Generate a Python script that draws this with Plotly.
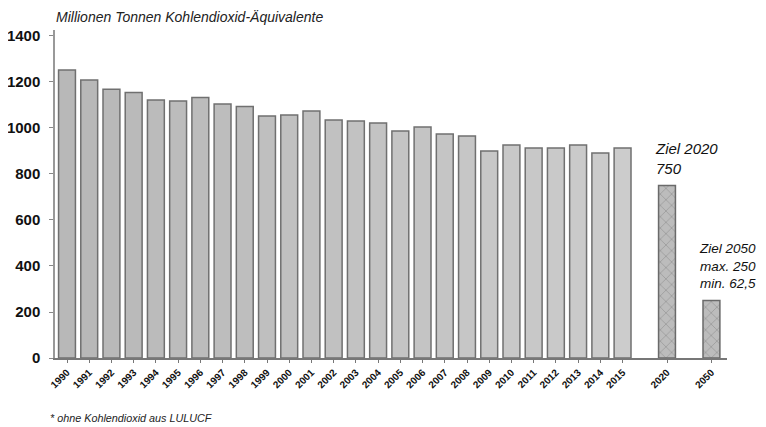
import plotly.graph_objects as go

years = ["1990", "1991", "1992", "1993", "1994", "1995", "1996", "1997", "1998", "1999",
         "2000", "2001", "2002", "2003", "2004", "2005", "2006", "2007", "2008", "2009",
         "2010", "2011", "2012", "2013", "2014", "2015"]
emissions = [1252, 1209, 1168, 1154, 1122, 1117, 1132, 1104, 1093, 1052,
             1057, 1074, 1035, 1030, 1022, 987, 1004, 974, 965, 900,
             926, 913, 913, 926, 891, 913]
target_years = ["2020", "2050"]
target_values = [750, 250]

y_ticks = [0, 200, 400, 600, 800, 1000, 1200, 1400]

hist_pos = list(range(len(years)))
target_pos = [len(years) + 1, len(years) + 3]

n = len(years)
hist_colors = []
for i in range(n):
    g = int(0xb8 + (0xcc - 0xb8) * i / (n - 1))
    hist_colors.append(f"rgb({g},{g},{g})")

fig = go.Figure()
fig.add_trace(go.Bar(
    x=hist_pos, y=emissions, width=0.76,
    marker=dict(color=hist_colors, line=dict(color="#707070", width=1.5)),
    hoverinfo="x+y", showlegend=False,
))
fig.add_trace(go.Bar(
    x=target_pos, y=target_values, width=0.76,
    marker=dict(color="#bcbcbc", line=dict(color="#6a6a6a", width=1.5),
                pattern=dict(shape="x", fgcolor="#666666", size=8, solidity=0.15)),
    showlegend=False,
))

# page body has an 8px margin: figure drawn at (8, 8)
fig.update_layout(
    width=758, height=419,
    margin=dict(l=47, r=39, t=22, b=69),
    plot_bgcolor="white", paper_bgcolor="white",
    bargap=0.2,
    font=dict(family="Liberation Sans, Arial, sans-serif", color="#111111"),
    xaxis=dict(
        range=[-0.54, 29.7],
        tickvals=hist_pos + target_pos,
        ticktext=years + target_years,
        tickangle=-45,
        tickfont=dict(size=10, family="Liberation Sans, Arial, sans-serif", weight="bold"),
        showline=True, linecolor="#777777", linewidth=1.5,
        ticks="outside", ticklen=3, tickcolor="#777777",
        showgrid=False, zeroline=False, automargin=False,
    ),
    yaxis=dict(
        range=[0, 1426],
        tickvals=y_ticks,
        ticktext=[str(v) for v in y_ticks],
        tickfont=dict(size=15, family="Liberation Sans, Arial, sans-serif", weight="bold", color="#111111"),
        showline=True, linecolor="#999999", linewidth=1.5,
        ticks="outside", ticklen=4, tickcolor="#888888",
        showgrid=False, zeroline=False, automargin=False,
        ticklabelstandoff=6,
    ),
    annotations=[
        dict(text="<i>Millionen Tonnen Kohlendioxid-Äquivalente</i>",
             xref="paper", yref="paper", x=-0.002, y=1.0, yshift=23,
             xanchor="left", yanchor="top", showarrow=False,
             font=dict(size=14, color="#222222")),
        dict(text="<i>* ohne Kohlendioxid aus LULUCF</i>",
             xref="paper", yref="paper", x=-0.01, y=0, yshift=-60,
             xanchor="left", yanchor="middle", showarrow=False,
             font=dict(size=10.8, color="#222222")),
        dict(text="<i>Ziel 2020<br>750</i>",
             xref="x", yref="y", x=target_pos[0] - 0.62, y=target_values[0], yshift=6,
             xanchor="left", yanchor="bottom", showarrow=False, align="left",
             font=dict(size=15, color="#111111")),
        dict(text="<i>Ziel 2050<br>max. 250<br>min. 62,5</i>",
             xref="x", yref="y", x=target_pos[1] - 0.66, y=target_values[1], yshift=8,
             xanchor="left", yanchor="bottom", showarrow=False, align="left",
             font=dict(size=13.5, color="#111111")),
    ],
)

fig.write_html("out.html")
